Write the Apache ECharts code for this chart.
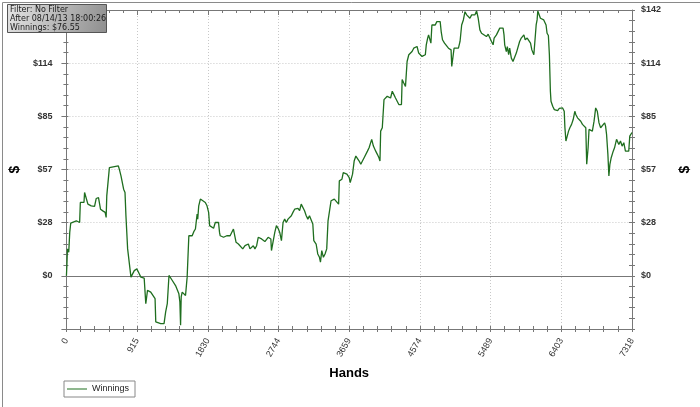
<!DOCTYPE html>
<html>
<head>
<meta charset="utf-8">
<script src="https://cdn.jsdelivr.net/npm/echarts@6/dist/echarts.min.js"></script>
<style>
html,body{margin:0;padding:0;background:#fff;}
#chart{width:700px;height:407px;}
</style>
</head>
<body>
<div id="chart"></div>
<script>
// ---- data ----
const hands = [
0,6,13,21,30,43,56,64,128,171,180,227,235,257,278,321,364,385,415,441,471,501,514,522,556,578,621,642,672,685,706,740,758,770,792,813,835,856,878,912,942,963,1006,1027,1049,1091,1113,1147,1156,1177,1220,1263,1284,1305,1327,1348,1370,1391,1412,1434,1455,1468,1477,1485,1498,1520,1541,1562,1584,1605,1627,1648,1669,1691,1699,1712,1733,
1797,1819,1840,1853,1870,1904,1926,1947,1968,1981,1990,2011,2033,2054,2075,2097,2118,2140,2161,2182,2195,2225,2247,2281,2311,2332,2354,2375,2418,2439,2461,2482,2503,2525,2546,2568,2589,2610,2632,2645,2653,2675,2696,2717,2739,2760,2782,2803,2824,2846,2867,2889,2910,2931,2953,2974,2996,3017,3038,3060,3081,3103,3124,3145,3167,3188,3201,3231,3252,3274,3287,3304,3325,3346,3368,3385,3402,3424,3466,3488,3522,3531,3565,3582,
3595,3629,3659,3672,3689,3702,3723,3745,3766,3788,3809,3830,3852,3873,3895,3916,3937,3950,3972,4002,4023,4044,4057,4066,4087,4109,4130,4151,4194,4216,4237,4258,4280,4301,4323,4335,4344,4365,4387,4408,4430,4451,4472,4494,4515,4537,4558,4579,4601,4622,4644,4656,4674,4686,4699,4716,4729,4751,4772,4793,4815,4836,4849,4866,4892,4913,4943,4965,4977,4986,4999,5016,5042,5072,5093,5114,5136,5157,5179,5200,5221,5243,5264,5286,5307,5328,5350,5371,5393,5435,
5457,5478,5500,5521,5534,5564,5585,5607,5628,5650,5662,5671,5692,5705,5722,5735,5757,5778,5799,5821,5842,5864,5885,5906,5919,5936,5962,5979,6005,6022,6048,6065,6078,6090,6099,6120,6133,6150,6176,6193,6206,6219,6236,6249,6262,6270,6292,6313,6334,6356,6377,6399,6420,6441,6450,6463,6484,6497,6514,6536,6557,6578,6591,6613,6634,6655,6677,6698,6720,6732,6750,6762,6784,6805,6827,6848,6861,6869,6891,6912,6934,6964,6976,6989,7006,7019,7032,7049,7075,7092,7118,7135,7148,7169,7190,7212,7233,7255,7276,7289,7306,7318
];
const winnings = [
0,5.5,14.4,15.3,12.6,23.2,28.2,28.5,29.4,28.5,39.2,39.2,44.5,44.9,38.3,37.4,37.1,41.3,41.8,35.6,34.7,33.9,31.2,42.7,57.8,58.7,58.3,57.3,58.7,56.9,53.4,46.3,44.5,32.1,14.4,14.4,-0.7,-0.7,2.8,3.7,1.1,-0.7,-1.2,-14.9,-7.8,-8.7,-8.7,-12.2,-24.6,-25.5,-25.5,-25.5,-19.3,-14.9,0.2,0.2,-2.5,-3.4,-5.2,-6.0,-9.6,-14.0,-26.4,-11.3,-8.7,-8.7,-10.5,-0.7,21.4,22.3,21.4,23.6,25.0,33.0,30.3,37.4,41.0,
39.2,37.4,33.9,26.8,25.9,25.4,28.5,29.4,28.5,23.2,21.4,22.3,20.6,19.7,21.4,20.6,21.4,22.3,25.0,24.1,17.9,17.0,16.1,14.4,16.1,15.2,17.0,14.4,16.1,14.4,16.1,20.6,21.4,19.7,19.7,18.3,19.3,20.6,21.4,19.7,13.5,12.6,23.2,26.8,25.4,23.2,18.8,28.5,30.3,28.5,30.3,29.4,32.1,33.9,35.6,34.8,36.0,34.8,38.3,38.3,34.8,32.1,30.3,32.1,33.0,27.7,18.8,17.0,11.7,9.9,7.3,13.5,9.9,11.7,14.4,29.4,30.3,40.1,41.0,40.1,38.3,50.7,51.6,55.1,
55.2,54.3,52.5,49.8,48.9,54.3,61.3,64.0,63.1,61.3,59.6,61.3,63.1,64.0,66.6,68.4,69.3,72.9,69.3,66.6,64.9,63.1,61.3,77.3,79.1,94.1,95.0,95.9,95.0,98.6,96.8,95.0,94.1,91.5,90.6,91.5,104.8,103.0,101.2,114.5,118.1,119.0,119.8,121.6,120.7,122.5,119.0,118.1,117.2,118.1,118.1,123.4,127.0,128.7,127.8,124.3,134.0,134.9,134.0,135.8,134.9,135.8,130.5,126.1,124.3,123.4,121.6,122.5,120.7,111.9,111.0,121.6,121.6,121.6,125.2,134.0,136.7,141.1,139.4,138.5,137.6,139.4,138.5,139.4,141.5,137.6,131.4,129.6,128.7,127.8,
129.1,128.7,125.2,123.4,127.0,128.7,129.1,132.3,132.6,132.3,128.7,123.4,119.8,122.5,118.1,121.6,116.3,114.5,113.7,119.0,119.8,125.2,127.0,127.8,128.7,126.1,127.0,126.1,124.3,120.7,118.1,117.7,134.0,136.7,141.5,141.1,137.6,138.0,136.7,136.7,134.0,129.6,128.4,118.1,98.6,93.3,90.6,88.8,89.7,88.3,89.4,88.8,89.7,87.9,79.1,72.0,72.9,77.3,79.1,80.9,83.5,87.9,86.2,84.4,84.4,82.6,80.9,80.0,79.1,59.6,68.4,78.2,77.3,77.3,82.6,89.7,90.6,87.9,81.7,79.1,79.1,81.7,80.0,75.5,64.9,53.4,59.6,63.1,66.6,68.4,72.9,72.0,70.2,72.0,69.3,71.1,66.6,66.6,66.6,74.6,75.5,76.55
];
const xTickLabels = ['0','915','1830','2744','3659','4574','5489','6403','7318'];
const yTickLabels = ['$0','$28','$57','$85','$114','$142'];
const infoLines = ['Filter: No Filter','After 08/14/13 18:00:26','Winnings: $76.55'];
const seriesName = 'Winnings';
const xName = 'Hands';
const yName = '$';

// ---- scales ----
const X_MAX = 7318, X_INT = X_MAX / 8;
const Y_MAX = 142, Y_INT = Y_MAX / 5, Y_MIN = -Y_INT;

const chart = echarts.init(document.getElementById('chart'), null, {renderer:'canvas'});
const axisCol = '#777';
const lblFont = 'Liberation Sans';
const lineCol = '#1f6e1f';

function xLabel(v){ const i = Math.round(v / X_INT); return xTickLabels[i] || ''; }
function yLabel(v){ const i = Math.round(v / Y_INT); return i >= 0 && yTickLabels[i] ? yTickLabels[i] : ''; }
// left-side top label sits under the info box in the original
function yLabelLeft(v){ const i = Math.round(v / Y_INT); return i === yTickLabels.length - 1 ? '' : yLabel(v); }

const baseX = {type:'value', min:0, max:X_MAX, interval:X_INT, gridIndex:0};
const baseY = {type:'value', min:Y_MIN, max:Y_MAX, interval:Y_INT, gridIndex:0};

const option = {
  animation:false,
  backgroundColor:'#fff',
  grid:{left:65, right:65, top:10, bottom:78, containLabel:false},
  xAxis:[
    Object.assign({}, baseX, {
      position:'bottom',
      name:xName, nameLocation:'middle', nameGap:38,
      nameTextStyle:{fontFamily:lblFont, fontSize:13, fontWeight:'bold', color:'#000'},
      axisLine:{show:true, onZero:false, lineStyle:{color:axisCol}},
      axisTick:{show:true, inside:false, length:3, lineStyle:{color:axisCol}},
      minorTick:{show:true, splitNumber:5, length:3, lineStyle:{color:axisCol}},
      axisLabel:{formatter:xLabel, rotate:60, margin:10, fontFamily:lblFont, fontSize:9, color:'#333', showMinLabel:true, showMaxLabel:true},
      splitLine:{show:true, lineStyle:{color:'#c8c8c8', type:[1,2], width:1}},
    }),
    Object.assign({}, baseX, {
      position:'bottom',
      axisLine:{show:false, onZero:false},
      axisTick:{show:true, inside:true, length:3, lineStyle:{color:axisCol}},
      minorTick:{show:true, splitNumber:5, length:3, lineStyle:{color:axisCol}},
      axisLabel:{show:false}, splitLine:{show:false}
    }),
    Object.assign({}, baseX, {
      position:'top',
      axisLine:{show:true, onZero:false, lineStyle:{color:axisCol}},
      axisTick:{show:true, inside:true, length:5, lineStyle:{color:axisCol}},
      minorTick:{show:true, splitNumber:5, length:3, lineStyle:{color:axisCol}},
      axisLabel:{show:false}, splitLine:{show:false}
    })
  ],
  yAxis:[
    Object.assign({}, baseY, {
      position:'left',
      name:yName, nameLocation:'middle', nameGap:38, nameRotate:90,
      nameTextStyle:{fontFamily:lblFont, fontSize:14, fontWeight:'bold', color:'#000'},
      axisLine:{show:true, onZero:false, lineStyle:{color:axisCol}},
      axisTick:{show:true, inside:false, length:5, lineStyle:{color:axisCol}},
      minorTick:{show:true, splitNumber:5, length:3, lineStyle:{color:axisCol}},
      axisLabel:{formatter:yLabelLeft, margin:14, fontFamily:lblFont, fontSize:9, color:'#333', fontWeight:'bold'},
      splitLine:{show:true, lineStyle:{color:'#c8c8c8', type:[1,2], width:1}}
    }),
    Object.assign({}, baseY, {
      position:'right',
      name:yName, nameLocation:'middle', nameGap:46, nameRotate:90,
      nameTextStyle:{fontFamily:lblFont, fontSize:14, fontWeight:'bold', color:'#000'},
      axisLine:{show:true, onZero:false, lineStyle:{color:axisCol}},
      axisTick:{show:true, inside:false, length:3, lineStyle:{color:axisCol}},
      minorTick:{show:true, splitNumber:5, length:3, lineStyle:{color:axisCol}},
      axisLabel:{formatter:yLabel, margin:9, fontFamily:lblFont, fontSize:9, color:'#333', fontWeight:'bold'},
      splitLine:{show:false}
    }),
    Object.assign({}, baseY, {
      position:'left',
      axisLine:{show:false, onZero:false},
      axisTick:{show:true, inside:true, length:2, lineStyle:{color:axisCol}},
      minorTick:{show:true, splitNumber:5, length:2, lineStyle:{color:axisCol}},
      axisLabel:{show:false}, splitLine:{show:false}
    }),
    Object.assign({}, baseY, {
      position:'right',
      axisLine:{show:false, onZero:false},
      axisTick:{show:true, inside:true, length:3, lineStyle:{color:axisCol}},
      minorTick:{show:true, splitNumber:5, length:3, lineStyle:{color:axisCol}},
      axisLabel:{show:false}, splitLine:{show:false}
    })
  ],
  legend:{
    left:64, top:381, orient:'horizontal',
    borderColor:'#888', borderWidth:1, borderRadius:0,
    padding:[3,6,3,3], itemWidth:20, itemHeight:1,
    icon:'rect',
    itemStyle:{color:lineCol, borderWidth:0},
    textStyle:{fontFamily:lblFont, fontSize:9, color:'#222', lineHeight:10},
    data:[seriesName]
  },
  series:[{
    name:seriesName, type:'line', xAxisIndex:0, yAxisIndex:0,
    data:hands.map((h,i)=>[h, winnings[i]]),
    symbol:'none', showSymbol:false,
    lineStyle:{color:lineCol, width:1.3},
    itemStyle:{color:lineCol},
    clip:true,
    z:5,
    markLine:{
      silent:true, symbol:['none','none'], label:{show:false},
      lineStyle:{color:'#777', type:'solid', width:1},
      data:[{yAxis:0}]
    }
  }],
  graphic:[
    {type:'rect', left:0, top:0, z:100, silent:true,
      shape:{x:0.5, y:0.5, width:699, height:406},
      style:{fill:'none', stroke:'#8a8a8a', lineWidth:1}},
    {type:'rect', left:7, top:4, z:110, silent:true,
      shape:{x:0.5, y:0.5, width:99, height:28},
      style:{fill:new echarts.graphic.LinearGradient(0,0,1,1,[{offset:0,color:'#e4e4e4'},{offset:1,color:'#8e8e8e'}]), stroke:'#555', lineWidth:1}},
    {type:'text', left:10, top:6, z:111, silent:true, style:{text:infoLines[0], font:'8px "DejaVu Sans"', fill:'#1a1a1a'}},
    {type:'text', left:10, top:15, z:111, silent:true, style:{text:infoLines[1], font:'8px "DejaVu Sans"', fill:'#1a1a1a'}},
    {type:'text', left:10, top:24, z:111, silent:true, style:{text:infoLines[2], font:'8px "DejaVu Sans"', fill:'#1a1a1a'}}
  ]
};
chart.setOption(option);
</script>
</body>
</html>
